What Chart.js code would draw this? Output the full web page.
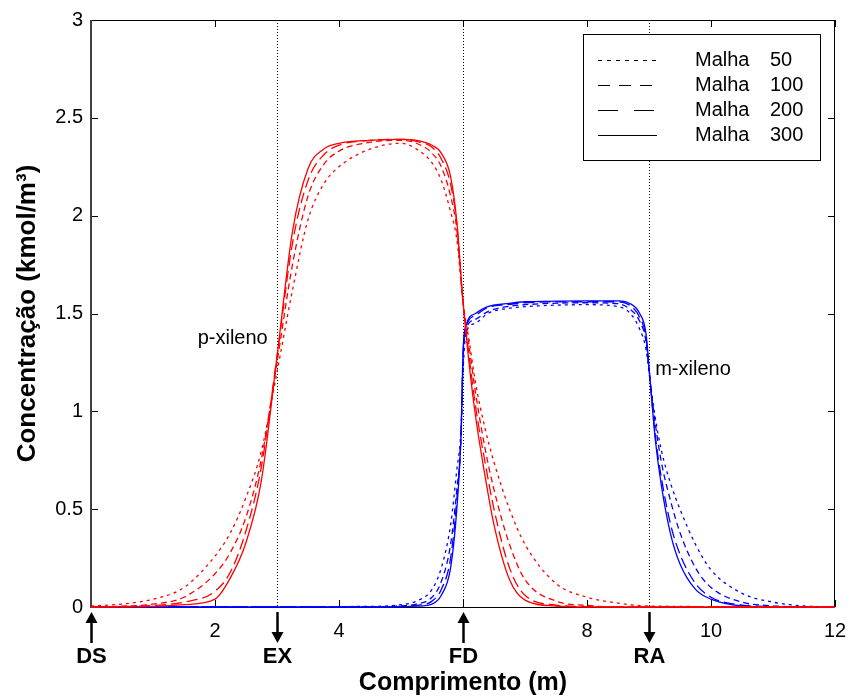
<!DOCTYPE html>
<html>
<head>
<meta charset="utf-8">
<script src="https://cdn.jsdelivr.net/npm/chart.js@4/dist/chart.umd.min.js"></script>
<style>
  html, body { margin: 0; padding: 0; background: #fff; }
</style>
</head>
<body>
<canvas id="chart" width="850" height="698"></canvas>
<script>
// --- data ---
const meshes = ['50', '100', '200', '300'];

// p-xileno (red), one shared x grid
const xRed = [0, 0.5, 1.0, 1.5, 2.0, 2.25, 2.5, 2.75, 3.0, 3.25, 3.5, 3.75, 4.0, 4.5, 5.0, 5.25,
              5.5, 5.65, 5.8, 5.9, 6.0, 6.1, 6.2, 6.35, 6.5, 6.75, 7.0, 7.5, 8.0, 8.5, 9.0, 12];
const pX50  = [0.005, 0.015, 0.04, 0.1, 0.26, 0.38, 0.56, 0.8, 1.2, 1.62, 1.98, 2.16, 2.25, 2.34, 2.37, 2.34,
               2.27, 2.18, 2.02, 1.88, 1.56, 1.36, 1.15, 0.92, 0.74, 0.5, 0.32, 0.12, 0.05, 0.02, 0.005, 0];
const pX100 = [0, 0.004, 0.015, 0.05, 0.17, 0.28, 0.46, 0.76, 1.25, 1.75, 2.1, 2.26, 2.33, 2.375, 2.385, 2.37,
               2.32, 2.25, 2.1, 1.93, 1.56, 1.33, 1.1, 0.82, 0.6, 0.32, 0.14, 0.03, 0.008, 0, 0, 0];
const pX200 = [0, 0.002, 0.008, 0.025, 0.08, 0.18, 0.39, 0.72, 1.28, 1.86, 2.18, 2.31, 2.36, 2.385, 2.39, 2.38,
               2.35, 2.29, 2.16, 1.96, 1.56, 1.28, 1.03, 0.75, 0.5, 0.2, 0.06, 0.01, 0.002, 0, 0, 0];
const pX300 = [0, 0, 0.003, 0.012, 0.04, 0.15, 0.33, 0.65, 1.28, 1.92, 2.24, 2.34, 2.37, 2.385, 2.39, 2.385,
               2.36, 2.32, 2.2, 1.97, 1.56, 1.24, 0.98, 0.68, 0.42, 0.14, 0.035, 0.005, 0, 0, 0, 0];

// m-xileno (blue), one shared x grid
const xBlue = [0, 4.5, 5.0, 5.25, 5.5, 5.65, 5.8, 5.9, 5.97, 6.0, 6.05, 6.2, 6.4, 6.7, 7.0, 8.0,
               8.5, 8.7, 8.85, 8.95, 9.02, 9.1, 9.2, 9.35, 9.5, 9.75, 10.0, 10.5, 11.0, 11.5, 12];
const mX50  = [0, 0.003, 0.012, 0.03, 0.09, 0.2, 0.42, 0.7, 0.92, 1.2, 1.4, 1.45, 1.5, 1.525, 1.535, 1.545,
               1.535, 1.5, 1.42, 1.32, 1.15, 0.97, 0.8, 0.63, 0.5, 0.32, 0.19, 0.07, 0.025, 0.005, 0];
const mX100 = [0, 0.001, 0.006, 0.015, 0.05, 0.13, 0.32, 0.6, 0.88, 1.25, 1.42, 1.47, 1.51, 1.535, 1.545, 1.555,
               1.55, 1.52, 1.46, 1.36, 1.15, 0.94, 0.74, 0.54, 0.38, 0.2, 0.1, 0.025, 0.006, 0, 0];
const mX200 = [0, 0, 0.003, 0.008, 0.03, 0.09, 0.25, 0.55, 0.9, 1.28, 1.43, 1.49, 1.53, 1.545, 1.555, 1.56,
               1.56, 1.54, 1.48, 1.38, 1.15, 0.88, 0.66, 0.42, 0.27, 0.12, 0.05, 0.01, 0.002, 0, 0];
const mX300 = [0, 0, 0.001, 0.004, 0.015, 0.06, 0.2, 0.5, 0.9, 1.3, 1.44, 1.5, 1.535, 1.55, 1.56, 1.565,
               1.565, 1.55, 1.5, 1.4, 1.15, 0.86, 0.62, 0.37, 0.22, 0.09, 0.04, 0.005, 0, 0, 0];

const xTickValues = [0, 2, 4, 6, 8, 10, 12];
const xTickLabels = ['', '2', '4', '', '8', '10', '12'];
const yTickValues = [0, 0.5, 1, 1.5, 2, 2.5, 3];
const yTickLabels = ['0', '0.5', '1', '1.5', '2', '2.5', '3'];

const zoneNames = ['DS', 'EX', 'FD', 'RA'];
const zonePos = [0, 3, 6, 9];
const zoneArrowUp = [true, false, true, false];

// --- styles ---
const FONT = "'Liberation Sans', Arial, sans-serif";
const plotDash = [[3, 4], [6, 4], [11, 5], []];
const legendDash = [[4, 5], [12, 9], [20, 16], []];

const redSeries = [pX50, pX100, pX200, pX300];
const blueSeries = [mX50, mX100, mX200, mX300];

function makeSet(xs, ys, color, k) {
    return {
        data: xs.map((x, i) => ({ x: x, y: ys[i] })),
        borderColor: color,
        borderWidth: 1.3,
        borderDash: plotDash[k],
        pointRadius: 0,
        cubicInterpolationMode: 'monotone',
        clip: 4
    };
}

// red first so it is painted on top of the blue
const datasets = [];
meshes.forEach((m, k) => datasets.push(makeSet(xRed, redSeries[k], '#ff0000', k)));
meshes.forEach((m, k) => datasets.push(makeSet(xBlue, blueSeries[k], '#0000ff', k)));

function line(ctx, x1, y1, x2, y2) {
    ctx.beginPath();
    ctx.moveTo(x1, y1);
    ctx.lineTo(x2, y2);
    ctx.stroke();
}

// box, inside ticks and dotted zone lines (MATLAB look)
const framePlugin = {
    id: 'frame',
    beforeDatasetsDraw(chart) {
        const { ctx, chartArea: a, scales: { x, y } } = chart;
        ctx.save();
        ctx.strokeStyle = '#000';
        ctx.lineWidth = 1;

        ctx.setLineDash([1, 2]);
        zonePos.slice(1).forEach(v => {
            const px = Math.round(x.getPixelForValue(v)) + 0.5;
            line(ctx, px, a.top, px, a.bottom);
        });
        ctx.setLineDash([]);

        xTickValues.forEach(v => {
            const px = Math.round(x.getPixelForValue(v)) + 0.5;
            line(ctx, px, a.bottom, px, a.bottom - 7);
            line(ctx, px, a.top, px, a.top + 7);
        });
        yTickValues.forEach(v => {
            const py = Math.round(y.getPixelForValue(v)) + 0.5;
            line(ctx, a.left, py, a.left + 7, py);
            line(ctx, a.right, py, a.right - 7, py);
        });

        ctx.strokeRect(Math.round(a.left) + 0.5, Math.round(a.top) + 0.5,
                       Math.round(a.width) - 1, Math.round(a.height));
        ctx.strokeStyle = '#404040';
        ctx.lineWidth = 2;
        line(ctx, Math.round(a.left), a.top, Math.round(a.left), a.bottom + 1);
        ctx.restore();
    },
    afterDatasetsDraw(chart) {
        const { ctx, scales: { x, y } } = chart;
        ctx.save();

        // legend box
        const lx = 583, ly = 34, lw = 237, lh = 126;
        ctx.fillStyle = '#fff';
        ctx.fillRect(lx, ly, lw, lh);
        ctx.strokeStyle = '#000';
        ctx.lineWidth = 1;
        ctx.strokeRect(lx + 0.5, ly + 0.5, lw, lh);
        ctx.font = '20px ' + FONT;
        ctx.fillStyle = '#000';
        ctx.textBaseline = 'middle';
        meshes.forEach((m, k) => {
            const ry = ly + 26 + k * 25;
            ctx.setLineDash(legendDash[k]);
            line(ctx, lx + 15, ry + 0.5, lx + 74, ry + 0.5);
            ctx.setLineDash([]);
            ctx.textAlign = 'left';
            ctx.fillText('Malha', lx + 112, ry);
            ctx.fillText(m, lx + 187, ry);
        });

        // species labels
        ctx.fillText('m-xileno', x.getPixelForValue(9.1), y.getPixelForValue(1.215));
        ctx.textAlign = 'right';
        ctx.fillText('p-xileno', x.getPixelForValue(2.85), y.getPixelForValue(1.37));
        ctx.restore();
    },
    afterDraw(chart) {
        const { ctx, scales: { x } } = chart;
        ctx.save();
        ctx.fillStyle = '#000';
        ctx.strokeStyle = '#000';
        ctx.lineWidth = 2.5;
        const top = 612, bot = 643, head = 11, hw = 6;
        zoneNames.forEach((name, i) => {
            const px = Math.round(x.getPixelForValue(zonePos[i])) + 0.5;
            ctx.beginPath();
            if (zoneArrowUp[i]) {
                line(ctx, px, top + head - 1, px, bot);
                ctx.beginPath();
                ctx.moveTo(px, top);
                ctx.lineTo(px - hw, top + head);
                ctx.lineTo(px + hw, top + head);
            } else {
                line(ctx, px, top, px, bot - head + 1);
                ctx.beginPath();
                ctx.moveTo(px, bot);
                ctx.lineTo(px - hw, bot - head);
                ctx.lineTo(px + hw, bot - head);
            }
            ctx.closePath();
            ctx.fill();
            ctx.font = 'bold 22px ' + FONT;
            ctx.textAlign = 'center';
            ctx.textBaseline = 'middle';
            ctx.fillText(name, px, 657);
        });
        ctx.restore();
    }
};

new Chart(document.getElementById('chart'), {
    type: 'line',
    data: { datasets: datasets },
    plugins: [framePlugin],
    options: {
        responsive: false,
        animation: false,
        events: [],
        layout: { padding: { top: 17, right: 15, left: 0, bottom: 0 } },
        plugins: { legend: { display: false }, tooltip: { enabled: false } },
        scales: {
            x: {
                type: 'linear', min: 0, max: 12,
                afterFit: s => { s.height = 91; s.paddingLeft = 0; s.paddingRight = 0; },
                afterBuildTicks: s => { s.ticks = xTickValues.map(v => ({ value: v })); },
                grid: { display: false, drawTicks: false },
                border: { display: false },
                ticks: {
                    autoSkip: false, maxRotation: 0, padding: 12, color: '#000',
                    font: { family: FONT, size: 20 },
                    callback: (v, i) => xTickLabels[i]
                },
                title: {
                    display: true, text: 'Comprimento (m)', color: '#000',
                    font: { family: FONT, size: 25, weight: 'bold' },
                    padding: { top: 0, bottom: 0 }
                }
            },
            y: {
                type: 'linear', min: 0, max: 3,
                afterFit: s => { s.width = 91; },
                afterBuildTicks: s => { s.ticks = yTickValues.map(v => ({ value: v })); },
                grid: { display: false, drawTicks: false },
                border: { display: false },
                ticks: {
                    padding: 8, color: '#000',
                    font: { family: FONT, size: 20 },
                    callback: (v, i) => yTickLabels[i]
                },
                title: {
                    display: true, text: 'Concentração (kmol/m³)', color: '#000',
                    font: { family: FONT, size: 26, weight: 'bold' },
                    padding: { top: 12, bottom: 0 }
                }
            }
        }
    }
});
</script>
</body>
</html>
